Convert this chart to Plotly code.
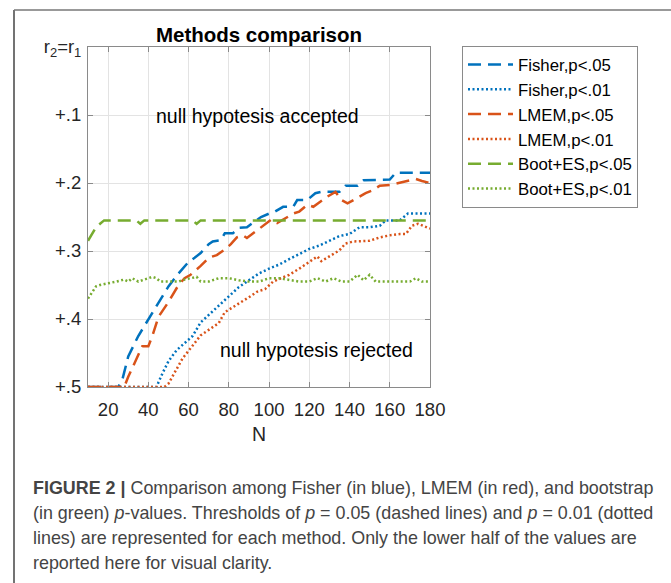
import plotly.graph_objects as go

# ---------------- data ----------------
fisher05_n = [10, 25, 27, 30, 35, 40, 45, 50, 55, 60, 63, 66, 70, 72, 76, 78, 82, 85, 89, 93, 96,
              100, 103, 107, 112, 114, 119, 123, 126, 131, 135, 138, 144, 147, 160, 163, 180]
fisher05_v = [.5, .5, .49, .455, .425, .40, .375, .352, .333, .316, .31, .303, .29, .286, .284, .274,
              .274, .266, .265, .257, .25, .245, .242, .235, .235, .225, .225, .215, .213, .213, .213,
              .204, .204, .196, .195, .185, .185]

fisher01_n = [10, 44, 47, 50, 54, 58, 62, 66, 70, 75, 80, 85, 90, 95, 100, 105, 110, 115, 120, 125,
              130, 135, 140, 145, 150, 155, 158, 165, 169, 180]
fisher01_v = [.5, .5, .48, .462, .446, .436, .425, .405, .394, .38, .366, .353, .343, .333, .326, .32,
              .312, .304, .297, .292, .285, .278, .275, .265, .265, .263, .255, .255, .245, .245]

lmem05_n = [10, 28, 30, 34, 37, 40, 42, 45, 50, 55, 58, 61, 66, 70, 74, 78, 81, 84, 87, 89, 93, 98,
            101, 104, 108, 112, 115, 119, 122, 125, 129, 133, 136, 139, 144, 148, 152, 155, 160, 164,
            167, 170, 173, 176, 180]
lmem05_v = [.5, .5, .485, .46, .44, .44, .425, .397, .375, .35, .34, .335, .322, .31, .306, .298, .29,
            .28, .277, .281, .272, .262, .254, .259, .252, .245, .242, .232, .235, .228, .22, .213,
            .225, .23, .222, .215, .21, .204, .203, .2, .198, .196, .194, .197, .2]

lmem01_n = [10, 48, 50, 54, 57, 61, 66, 70, 75, 78, 82, 86, 90, 94, 98, 102, 106, 110, 115, 120, 124,
            126, 130, 135, 138, 142, 150, 155, 160, 165, 168, 171, 174, 177, 180]
lmem01_v = [.5, .5, .495, .475, .458, .443, .424, .416, .406, .39, .383, .375, .368, .36, .356, .345,
            .34, .335, .326, .316, .308, .315, .308, .299, .289, .286, .285, .28, .277, .275, .275,
            .263, .26, .264, .267]

boot05_n = [10, 12, 14, 16, 18, 34, 36, 38, 62, 64, 66, 180]
boot05_v = [.285, .275, .265, .26, .255, .255, .26, .255, .255, .26, .255, .255]

boot01_n = [10, 12, 14, 16, 20, 24, 28, 30, 32, 35, 38, 42, 44, 46, 50, 55, 58, 62, 64, 66, 70, 75,
            80, 85, 90, 95, 100, 105, 110, 115, 120, 124, 128, 132, 136, 140, 144, 147, 150, 153,
            160, 165, 170, 173, 176, 180]
boot01_v = [.37, .36, .352, .35, .348, .345, .342, .345, .34, .345, .342, .338, .34, .345, .345, .345,
            .342, .34, .338, .345, .345, .34, .34, .343, .345, .345, .34, .34, .342, .345, .345, .34,
            .345, .34, .345, .345, .335, .343, .335, .345, .345, .345, .345, .34, .345, .345]

x_ticks = [20, 40, 60, 80, 100, 120, 140, 160, 180]
y_ticks = [0, 0.1, 0.2, 0.3, 0.4, 0.5]
y_ticktext = ["r<sub>2</sub>=r<sub>1</sub>", "+.1", "+.2", "+.3", "+.4", "+.5"]

series = [
    ("Fisher,p<.05", fisher05_n, fisher05_v, "#0072BD", "13px,7px"),
    ("Fisher,p<.01", fisher01_n, fisher01_v, "#0072BD", "2px,2.5px"),
    ("LMEM,p<.05", lmem05_n, lmem05_v, "#D95319", "13px,7px"),
    ("LMEM,p<.01", lmem01_n, lmem01_v, "#D95319", "2px,2.5px"),
    ("Boot+ES,p<.05", boot05_n, boot05_v, "#77AC30", "13px,7px"),
    ("Boot+ES,p<.01", boot01_n, boot01_v, "#77AC30", "2px,2.5px"),
]

caption = [
    "<b>FIGURE 2 |</b> Comparison among Fisher (in blue), LMEM (in red), and bootstrap",
    "(in green) <i>p</i>-values. Thresholds of <i>p</i> = 0.05 (dashed lines) and <i>p</i> = 0.01 (dotted",
    "lines) are represented for each method. Only the lower half of the values are",
    "reported here for visual clarity.",
]

# ---------------- figure ----------------
W, H = 671, 583
L, R, T, B = 88, 241, 47, 196
pw, ph = W - L - R, H - T - B


def px(x):
    return (x - L) / pw


def py(y):
    return (H - B - y) / ph


fig = go.Figure()
for name, n, v, col, dash in series:
    fig.add_trace(go.Scatter(x=n, y=v, mode="lines", name=name,
                             line=dict(color=col, width=2.5, dash=dash)))

FONT = "Liberation Sans, Arial, sans-serif"
axis_common = dict(showline=True, linecolor="#8a8a8a", linewidth=1, mirror="ticks",
                   ticks="inside", ticklen=5, tickcolor="#8a8a8a", showgrid=True,
                   gridcolor="#e3e3e3", gridwidth=1, zeroline=False,
                   tickfont=dict(family=FONT, size=18.5, color="#262626"))

fig.update_xaxes(range=[10, 180], tickvals=x_ticks, ticklabelstandoff=6, **axis_common)
fig.update_yaxes(range=[0.5, 0], tickvals=y_ticks, ticktext=y_ticktext, ticklabelstandoff=2,
                 **axis_common)

annotations = [
    dict(x=94.5, y=0.101, xref="x", yref="y", text="null hypotesis accepted", showarrow=False,
         xanchor="center", yanchor="middle",
         font=dict(family=FONT, size=19.5, color="#000")),
    dict(x=123.6, y=0.446, xref="x", yref="y", text="null hypotesis rejected", showarrow=False,
         xanchor="center", yanchor="middle",
         font=dict(family=FONT, size=19.5, color="#000")),
    dict(x=px(259), y=py(434), xref="paper", yref="paper", text="N", showarrow=False,
         xanchor="center", yanchor="middle",
         font=dict(family=FONT, size=19.5, color="#262626")),
]
for i, (line, yy) in enumerate(zip(caption, [488, 513, 538, 563])):
    annotations.append(dict(x=px(31), y=py(yy), xref="paper", yref="paper", text=line,
                            showarrow=False, xanchor="left", yanchor="middle",
                            font=dict(family=FONT, size=17.9, color="#444")))

shapes = [
    dict(type="line", xref="paper", yref="paper", x0=px(14), x1=px(14), y0=py(10), y1=py(583),
         line=dict(color="#444", width=1.5)),
    dict(type="line", xref="paper", yref="paper", x0=px(14), x1=px(671), y0=py(10), y1=py(10),
         line=dict(color="#777", width=1.5)),
]

fig.update_layout(
    width=W, height=H, autosize=False,
    margin=dict(l=L, r=R, t=T, b=B, pad=0),
    paper_bgcolor="white", plot_bgcolor="white",
    title=dict(text="<b>Methods comparison</b>", x=0.5, xref="paper", y=1 - 35 / H,
               yanchor="middle", xanchor="center",
               font=dict(family=FONT, size=20.5, color="#000")),
    legend=dict(x=px(462), y=py(46), xanchor="left", yanchor="top", xref="paper", yref="paper",
                bordercolor="#8a8a8a", borderwidth=1, bgcolor="white", itemwidth=45,
                font=dict(family=FONT, size=16.8, color="#000"), tracegroupgap=0),
    annotations=annotations,
    shapes=shapes,
    showlegend=True,
)

fig.write_html("out.html")
